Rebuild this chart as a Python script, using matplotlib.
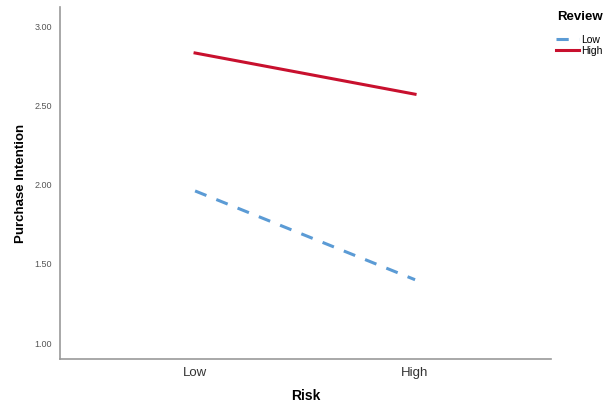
import matplotlib
matplotlib.use("Agg")
import matplotlib.pyplot as plt

risk_levels = ["Low", "High"]
review_low = [1.96, 1.40]
review_high = [2.83, 2.57]
yticks = [1.00, 1.50, 2.00, 2.50, 3.00]

plt.rcParams['font.family'] = ['Liberation Sans', 'DejaVu Sans']

fig = plt.figure(figsize=(6.03, 4.04), dpi=100)
ax = fig.add_axes([60/603, 1-359/404, (551-60)/603, (359-7)/404])

x = list(range(len(risk_levels)))
ax.plot(x, review_low, color='#5b9bd5', lw=2.2, dashes=(4, 3.5), label='Low')
ax.plot(x, review_high, color='#c8102e', lw=2.2, label='High')

ax.set_xlim(-0.614, 1.618)
ax.set_ylim(0.90, 3.12)
ax.set_xticks(x)
ax.set_xticklabels(risk_levels, fontsize=9.5, color='#333333')
ax.set_yticks(yticks)
ax.set_yticklabels([f"{v:.2f}" for v in yticks], fontsize=6.5, color='#555555')
ax.tick_params(length=0, pad=6)
for s in ['top', 'right']:
    ax.spines[s].set_visible(False)
for s in ['left', 'bottom']:
    ax.spines[s].set_color('#999999')
    ax.spines[s].set_linewidth(1.2)

ax.set_xlabel("Risk", fontsize=10, fontweight='bold', labelpad=7)
ax.set_ylabel("Purchase Intention", fontsize=9.5, fontweight='bold', labelpad=5)

fig.text(557/603, 1-17/404, "Review", fontsize=9.5, fontweight='bold', ha='left', va='center')
leg = ax.legend(loc='upper left', bbox_to_anchor=(554/603, 1-33/404), bbox_transform=fig.transFigure,
                frameon=False, fontsize=7.5, handlelength=2.2,
                handletextpad=0.2, labelspacing=0.1, borderaxespad=0, borderpad=0.2)

fig.savefig("out.png", dpi=100)
